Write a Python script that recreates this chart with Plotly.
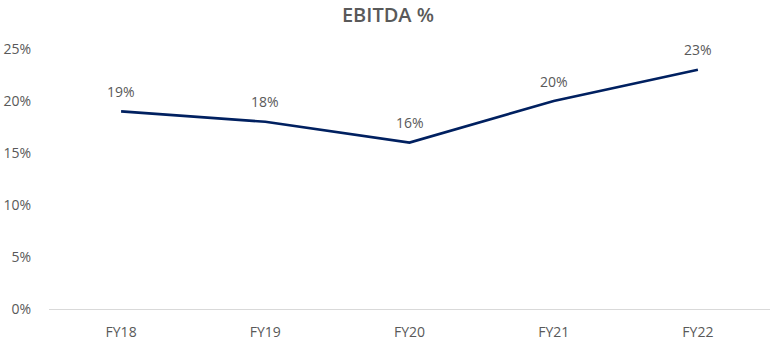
import plotly.graph_objects as go

categories = ["FY18", "FY19", "FY20", "FY21", "FY22"]
ebitda_pct = [19, 18, 16, 20, 23]
y_ticks = [0, 5, 10, 15, 20, 25]
y_tick_labels = ["0%", "5%", "10%", "15%", "20%", "25%"]

fig = go.Figure()
fig.add_trace(go.Scatter(
    x=categories, y=ebitda_pct, mode="lines",
    line=dict(color="#002060", width=2.6),
    showlegend=False, hoverinfo="skip",
))

for c, v in zip(categories, ebitda_pct):
    fig.add_annotation(x=c, y=v, text=f"{v}%", showarrow=False, yshift=20,
                       font=dict(family="Open Sans", size=14, color="#595959"))

fig.update_layout(
    width=776, height=342,
    margin=dict(l=49, r=6, t=49, b=33),
    paper_bgcolor="white", plot_bgcolor="white",
    font=dict(family="Open Sans", size=14, color="#595959"),
    title=dict(text="EBITDA %", x=0.5, xanchor="center", y=0.955, yanchor="middle",
               font=dict(family="Open Sans", size=20, color="#595959", weight=600)),
    xaxis=dict(type="category", range=[-0.5, 4.5], showgrid=False, showline=True,
               linecolor="#d9d9d9", linewidth=1, automargin=False,
               ticks="", tickfont=dict(size=14, color="#595959"), ticklabelstandoff=10),
    yaxis=dict(range=[0, 25], tickvals=y_ticks, ticktext=y_tick_labels, showgrid=False,
               zeroline=False, showline=False, ticks="", automargin=False,
               tickfont=dict(size=14, color="#595959"), ticklabelstandoff=17),
)

fig.write_html("out.html")
